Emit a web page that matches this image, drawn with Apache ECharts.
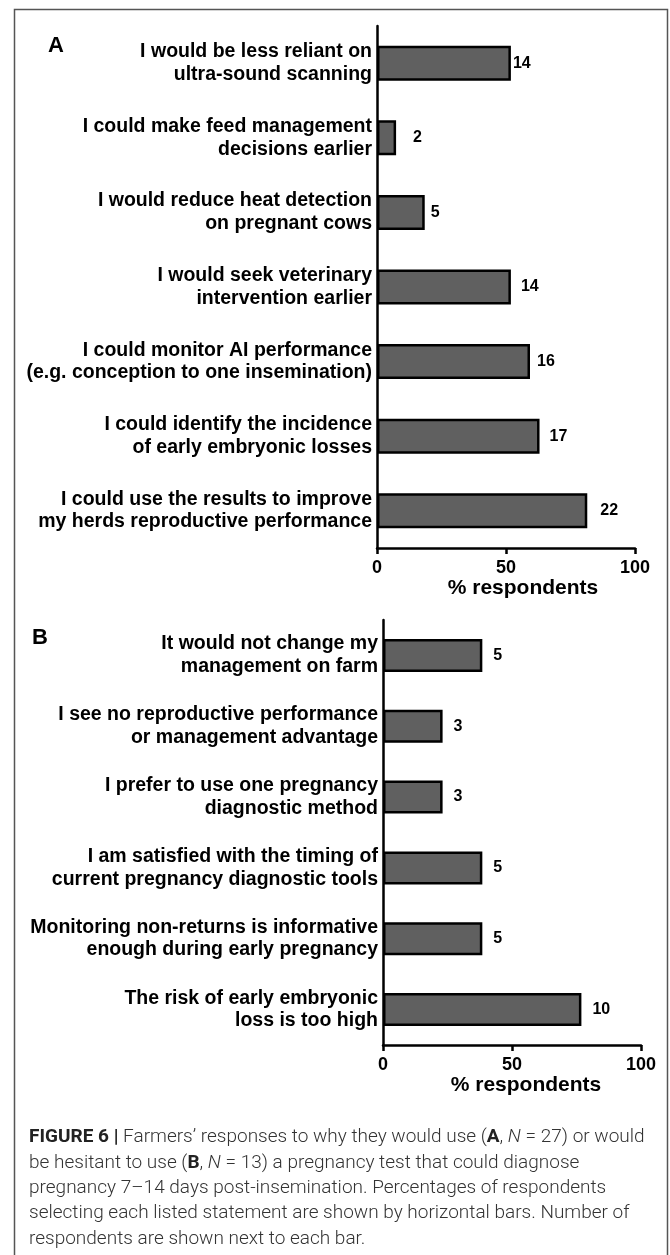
<!DOCTYPE html>
<html>
<head>
<meta charset="utf-8">
<script src="https://cdn.jsdelivr.net/npm/echarts@6/dist/echarts.min.js"></script>
<style>
  html, body { margin: 0; padding: 0; background: #fff; }
  #main { width: 670px; height: 1255px; }
</style>
</head>
<body>
<div id="main"></div>
<script>
// panel A: reasons to use (N = 27)
var catA = [
  "I would be less reliant on\nultra-sound scanning",
  "I could make feed management\ndecisions earlier",
  "I would reduce heat detection\non pregnant cows",
  "I would seek veterinary\nintervention earlier",
  "I could monitor AI performance\n(e.g. conception to one insemination)",
  "I could identify the incidence\nof early embryonic losses",
  "I could use the results to improve\nmy herds reproductive performance"
];
var pctA = [51.9, 7.4, 18.5, 51.9, 59.3, 63.0, 81.5];
var countA = [14, 2, 5, 14, 16, 17, 22];

// panel B: reasons to hesitate (N = 13)
var catB = [
  "It would not change my\nmanagement on farm",
  "I see no reproductive performance\nor management advantage",
  "I prefer to use one pregnancy\ndiagnostic method",
  "I am satisfied with the timing of\ncurrent pregnancy diagnostic tools",
  "Monitoring non-returns is informative\nenough during early pregnancy",
  "The risk of early embryonic\nloss is too high"
];
var pctB = [38.5, 23.1, 23.1, 38.5, 38.5, 76.9];
var countB = [5, 3, 3, 5, 5, 10];

var xTicks = [0, 50, 100];

// label gaps in panel A are not even in the original
var gapA = [2, 17, 6, 10, 7, 10, 13];

var FONT = "Liberation Sans";

var chartDom = document.getElementById("main");
var myChart = echarts.init(chartDom);
var option;

function xAxisFor(gridIndex, namePad) {
  return {
    gridIndex: gridIndex,
    type: "value",
    min: xTicks[0],
    max: xTicks[xTicks.length - 1],
    interval: xTicks[1] - xTicks[0],
    name: "% respondents",
    nameLocation: "middle",
    nameGap: 30,
    nameTextStyle: {
      fontFamily: FONT, fontWeight: "bold", fontSize: 21, color: "#000",
      padding: [0, 0, 0, namePad]
    },
    axisLine: { show: true, lineStyle: { color: "#000", width: 2.5 } },
    axisTick: { show: true, length: 6, lineStyle: { color: "#000", width: 2.5 } },
    axisLabel: { fontFamily: FONT, fontWeight: "bold", fontSize: 18, color: "#000", margin: 11 },
    splitLine: { show: false }
  };
}

function yAxisFor(gridIndex, cats) {
  return {
    gridIndex: gridIndex,
    type: "category",
    inverse: true,
    data: cats,
    axisLine: { show: true, lineStyle: { color: "#000", width: 2.5 } },
    axisTick: { show: false },
    axisLabel: {
      fontFamily: FONT, fontWeight: "bold", fontSize: 19.5, color: "#000",
      lineHeight: 22.7, margin: 5, align: "right",
      padding: [3, 0, 0, 0]
    }
  };
}

var barStyle = { color: "#606060", borderColor: "#000", borderWidth: 2.5 };
var labelStyle = { fontFamily: FONT, fontWeight: "bold", fontSize: 16, color: "#000" };

option = {
  animation: false,
  backgroundColor: "#fff",
  grid: [
    { left: 377, right: 35, top: 26, height: 522 },
    { left: 383, right: 29, top: 620, height: 425 }
  ],
  xAxis: [xAxisFor(0, 34), xAxisFor(1, 28)],
  yAxis: [yAxisFor(0, catA), yAxisFor(1, catB)],
  series: [
    {
      type: "bar",
      xAxisIndex: 0,
      yAxisIndex: 0,
      barWidth: 35,
      itemStyle: barStyle,
      data: pctA.map(function (v, i) {
        return {
          value: v,
          label: {
            show: true, position: "right", distance: gapA[i],
            formatter: String(countA[i])
          }
        };
      }),
      label: labelStyle
    },
    {
      type: "bar",
      xAxisIndex: 1,
      yAxisIndex: 1,
      barWidth: 33,
      itemStyle: barStyle,
      data: pctB.map(function (v, i) {
        return {
          value: v,
          label: { show: true, position: "right", distance: 11, formatter: String(countB[i]) }
        };
      }),
      label: labelStyle
    }
  ],
  graphic: [
    {
      type: "rect",
      z: -1,
      shape: { x: 14.5, y: 9.5, width: 653, height: 1300 },
      style: { fill: "none", stroke: "#555", lineWidth: 1.5 }
    },
    {
      type: "text",
      style: {
        x: 56, y: 46, text: "A", textAlign: "center", textVerticalAlign: "middle",
        font: "bold 22px " + FONT, fill: "#000"
      }
    },
    {
      type: "text",
      style: {
        x: 40, y: 638, text: "B", textAlign: "center", textVerticalAlign: "middle",
        font: "bold 22px " + FONT, fill: "#000"
      }
    },
    {
      // figure caption
      type: "text",
      style: {
        x: 29, y: 1125,
        textVerticalAlign: "top",
        font: "300 19px Roboto",
        fill: "#333",
        lineHeight: 25.3,
        text:
          "{b|FIGURE 6 |} Farmers\u2019 responses to why they would use ({b|A}, {i|N} = 27) or would\n" +
          "be hesitant to use ({b|B}, {i|N} = 13) a pregnancy test that could diagnose\n" +
          "pregnancy 7\u201314 days post-insemination. Percentages of respondents\n" +
          "selecting each listed statement are shown by horizontal bars. Number of\n" +
          "respondents are shown next to each bar.",
        rich: {
          b: { fontFamily: "Roboto", fontWeight: "bold", fontSize: 19, fill: "#222", lineHeight: 25.3 },
          i: { fontFamily: "Roboto", fontWeight: 300, fontStyle: "italic", fontSize: 19, fill: "#333", lineHeight: 25.3 }
        }
      }
    }
  ]
};

option && myChart.setOption(option);
window.addEventListener("resize", function () {
  myChart.resize();
});
</script>
</body>
</html>
